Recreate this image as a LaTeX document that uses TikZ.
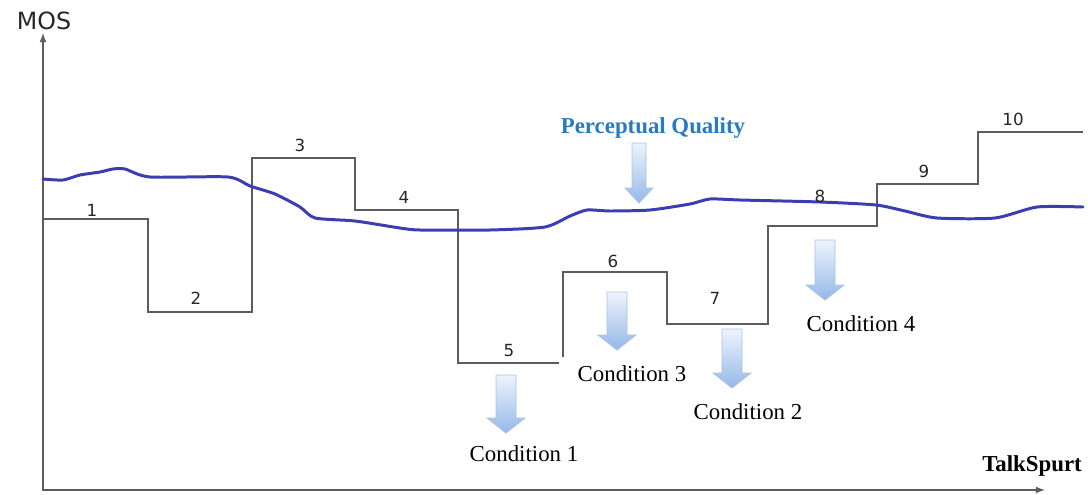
\documentclass[tikz,border=0pt]{standalone}
\usepackage{fontspec}
\setmainfont{Liberation Serif}
\setsansfont{DejaVu Sans}
\usepackage{xcolor}
\usepackage{tikz}
\usetikzlibrary{arrows}

\definecolor{stepgray}{HTML}{5C5C5C}
\definecolor{mosblue}{HTML}{3B3DB3}
\definecolor{titleblue}{HTML}{2A7ABF}
\definecolor{arrowtop}{HTML}{EEF4FC}
\definecolor{arrowbot}{HTML}{94B8E8}
\definecolor{arrowedge}{HTML}{A9C3E4}

\begin{document}
\begin{tikzpicture}[x=0.2mm, y=-0.2mm,
        axis/.style={draw=stepgray, line width=0.8pt},
        stepline/.style={draw=stepgray, line width=1.1pt},
        mosline/.style={draw=mosblue, line width=1.7pt, line join=round, line cap=round},
        fatarrow/.style={top color=arrowtop, bottom color=arrowbot, draw=arrowedge, line width=0.5pt},
        num/.style={font=\sffamily\fontsize{9.5}{11}\selectfont, text=black!85},
        cond/.style={font=\fontsize{13}{15}\selectfont}]
        \useasboundingbox (0,0) rectangle (1088,494);

        \coordinate (O) at (43,490);
        \coordinate (ytop) at (43,33);
        \coordinate (xend) at (1045,490);
        \draw[axis, latex-latex] (ytop) -- (O) -- (xend);

        \draw[stepline] (43,219) -- (148,219) -- (148,312) -- (252,312) -- (252,158)
            -- (355,158) -- (355,210) -- (458,210) -- (458,363) -- (559,363);
        \draw[stepline] (563,357) -- (563,272) -- (667,272) -- (667,324) -- (768,324)
            -- (768,226) -- (877,226) -- (877,184) -- (978,184) -- (978,132) -- (1083,132);

        \draw[mosline] plot[smooth, tension=0.4] coordinates {(43,179) (63,180) (80,175)
            (100,172) (113,169) (125,169) (150,177) (228,177) (250,186) (275,194) (300,207)
            (315,218) (355,221) (400,228) (420,230) (490,230) (545,227) (570,216) (587,210)
            (610,211) (650,210) (690,204) (710,199) (740,200) (820,202) (876,205) (905,211)
            (937,218) (995,218) (1037,207) (1083,207)};

        \foreach \x/\t/\b/\s/\h in {506/375/433/10/19, 617/292/350/10/19, 732/329/388/10/19,
            825/240/300/10/19, 639/143/203/7/14}
            \draw[fatarrow] (\x-\s,\t) -- (\x+\s,\t) -- (\x+\s,\b-15) -- (\x+\h,\b-15)
                -- (\x,\b) -- (\x-\h,\b-15) -- (\x-\s,\b-15) -- cycle;

        \node[font=\sffamily\fontsize{13.5}{16}\selectfont, text=black!85] (mos) at (44,21) {MOS};
        \node[font=\bfseries\fontsize{13}{15}\selectfont] (talk) at (1032,466) {TalkSpurt};
        \node[font=\bfseries\fontsize{13}{15}\selectfont, text=titleblue] (pq) at (653,128) {Perceptual Quality};

        \node[cond] (c1) at (524,454) {Condition 1};
        \node[cond] (c3) at (632,374) {Condition 3};
        \node[cond] (c2) at (748,412) {Condition 2};
        \node[cond] (c4) at (861,324) {Condition 4};

        \node[num] (n1) at (92,210) {1};
        \node[num] (n2) at (196,298) {2};
        \node[num] (n3) at (300,145) {3};
        \node[num] (n4) at (404,197) {4};
        \node[num] (n5) at (509,351) {5};
        \node[num] (n6) at (613,261) {6};
        \node[num] (n7) at (715,298) {7};
        \node[num] (n8) at (820,196) {8};
        \node[num] (n9) at (924,171) {9};
        \node[num] (n10) at (1013,119) {10};
    \end{tikzpicture}
\end{document}
